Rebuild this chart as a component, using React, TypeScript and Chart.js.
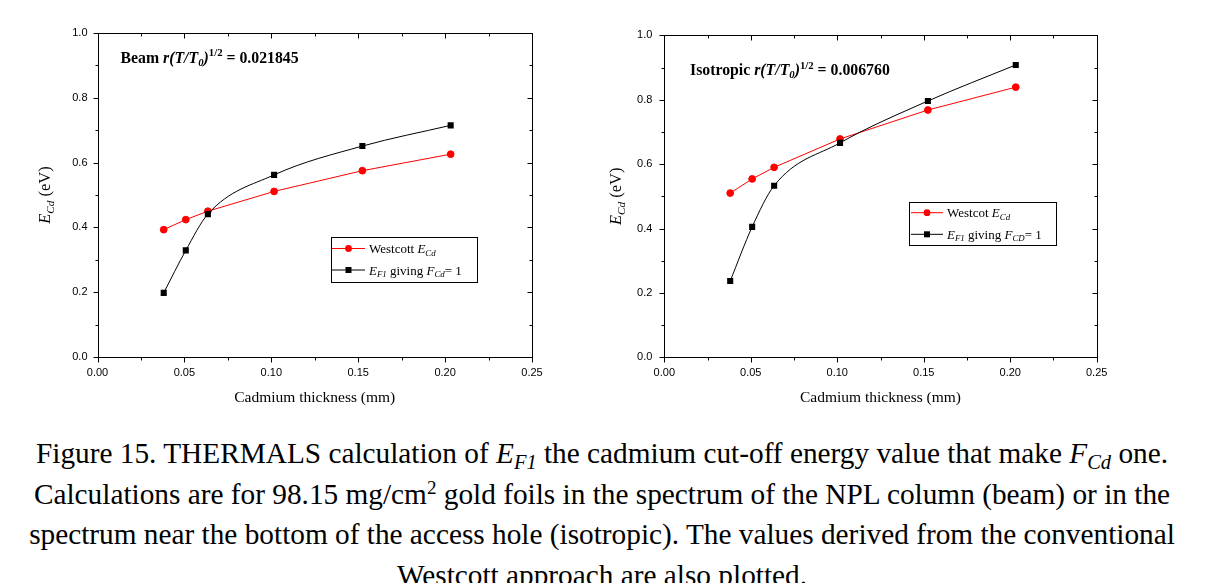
import React, { useEffect, useRef } from 'react';
import { Chart, registerables } from 'chart.js';

Chart.register(...registerables);

// ---------- data ----------
const thickness = [0.0381, 0.0508, 0.0635, 0.1016, 0.1524, 0.2032];
const beamWestcott = [0.393, 0.424, 0.45, 0.511, 0.575, 0.626];
const beamEF1 = [0.198, 0.329, 0.441, 0.562, 0.651, 0.715];
const isoWestcott = [0.51, 0.554, 0.59, 0.678, 0.768, 0.839];
const isoEF1 = [0.237, 0.405, 0.533, 0.666, 0.796, 0.908];
const xTicks = [0, 0.05, 0.1, 0.15, 0.2, 0.25];
const yTicks = [0, 0.2, 0.4, 0.6, 0.8, 1.0];

const SERIF = '"Liberation Serif", "Times New Roman", serif';
const SANS = '"Liberation Sans", Arial, sans-serif';

type Seg = { t: string; i?: boolean; b?: boolean; sub?: boolean; sup?: boolean };

function segFont(s: Seg, size: number) {
  const sz = s.sub || s.sup ? size * 0.68 : size;
  return `${s.i ? 'italic ' : ''}${s.b ? 'bold ' : ''}${sz}px ${SERIF}`;
}

function drawRich(ctx: CanvasRenderingContext2D, segs: Seg[], x: number, y: number, size: number, align: 'left' | 'center' = 'left') {
  ctx.save();
  ctx.textBaseline = 'alphabetic';
  ctx.textAlign = 'left';
  let total = 0;
  const widths = segs.map((s) => {
    ctx.font = segFont(s, size);
    const w = ctx.measureText(s.t).width;
    total += w;
    return w;
  });
  let cx = align === 'center' ? x - total / 2 : x;
  segs.forEach((s, k) => {
    ctx.font = segFont(s, size);
    const dy = s.sub ? size * 0.22 : s.sup ? -size * 0.38 : 0;
    ctx.fillStyle = '#000';
    ctx.fillText(s.t, cx, y + dy);
    cx += widths[k];
  });
  ctx.restore();
}

type PanelCfg = {
  canvasLeft: number;
  width: number;
  height: number;
  top: number;
  bottomPx: number;
  leftPx: number;
  rightPx: number;
  yPad: number;
  west: number[];
  ef1: number[];
  annot: { segs: Seg[]; x: number; y: number };
  yTitle: { x: number };
  xTitleY: number;
  legend: { x: number; y: number; w: number; h: number; lx1: number; lx2: number; tx: number; rows: { ly: number; ty: number; segs: Seg[] }[] };
};

const yTitleSegs: Seg[] = [{ t: 'E', i: true }, { t: 'Cd', i: true, sub: true }, { t: ' (eV)' }];

const beamCfg: PanelCfg = {
  canvasLeft: 0,
  width: 570,
  height: 420,
  top: 33,
  bottomPx: 357,
  leftPx: 97.5,
  rightPx: 532,
  yPad: 10,
  west: beamWestcott,
  ef1: beamEF1,
  annot: {
    segs: [
      { t: 'Beam ', b: true },
      { t: 'r(T/T', b: true, i: true },
      { t: '0', b: true, i: true, sub: true },
      { t: ')', b: true, i: true },
      { t: '1/2', b: true, sup: true },
      { t: ' = 0.021845', b: true },
    ],
    x: 120.5,
    y: 62.5,
  },
  yTitle: { x: 50 },
  xTitleY: 401.5,
  legend: {
    x: 331, y: 237, w: 146, h: 45, lx1: 332, lx2: 365, tx: 369,
    rows: [
      { ly: 248.5, ty: 253, segs: [{ t: 'Westcott ' }, { t: 'E', i: true }, { t: 'Cd', i: true, sub: true }] },
      { ly: 270, ty: 274.5, segs: [{ t: 'E', i: true }, { t: 'F1', i: true, sub: true }, { t: ' giving ' }, { t: 'F', i: true }, { t: 'Cd', i: true, sub: true }, { t: '= 1' }] },
    ],
  },
};

const isoCfg: PanelCfg = {
  canvasLeft: 580,
  width: 540,
  height: 420,
  top: 35.3,
  bottomPx: 357.3,
  leftPx: 664.3,
  rightPx: 1096.7,
  yPad: 12,
  west: isoWestcott,
  ef1: isoEF1,
  annot: {
    segs: [
      { t: 'Isotropic ', b: true },
      { t: 'r(T/T', b: true, i: true },
      { t: '0', b: true, i: true, sub: true },
      { t: ')', b: true, i: true },
      { t: '1/2', b: true, sup: true },
      { t: ' = 0.006760', b: true },
    ],
    x: 690,
    y: 75,
  },
  yTitle: { x: 621 },
  xTitleY: 401.5,
  legend: {
    x: 909, y: 202, w: 147, h: 43, lx1: 911, lx2: 943, tx: 947,
    rows: [
      { ly: 212.7, ty: 217, segs: [{ t: 'Westcot ' }, { t: 'E', i: true }, { t: 'Cd', i: true, sub: true }] },
      { ly: 234.3, ty: 238.5, segs: [{ t: 'E', i: true }, { t: 'F1', i: true, sub: true }, { t: ' giving ' }, { t: 'F', i: true }, { t: 'CD', i: true, sub: true }, { t: '= 1' }] },
    ],
  },
};

function makeDecor(cfg: PanelCfg) {
  const off = cfg.canvasLeft;
  return {
    id: 'decor',
    afterDraw(chart: any) {
      const ctx: CanvasRenderingContext2D = chart.ctx;
      const a = chart.chartArea;
      const xs = chart.scales.x;
      const ys = chart.scales.y;
      ctx.save();
      ctx.strokeStyle = '#000';
      ctx.lineWidth = 1;
      // frame
      ctx.strokeRect(Math.round(a.left) + 0.5, Math.round(a.top) + 0.5, Math.round(a.right) - Math.round(a.left), Math.round(a.bottom) - Math.round(a.top));
      const L = Math.round(a.left) + 0.5, R = Math.round(a.right) + 0.5, T = Math.round(a.top) + 0.5, B = Math.round(a.bottom) + 0.5;
      ctx.beginPath();
      const xMinor = xTicks.slice(1).map((v, k) => (v + xTicks[k]) / 2);
      const yMinor = yTicks.slice(1).map((v, k) => (v + yTicks[k]) / 2);
      const xtick = (v: number, len: number) => {
        const px = Math.round(xs.getPixelForValue(v)) + 0.5;
        ctx.moveTo(px, B); ctx.lineTo(px, B + len);
        ctx.moveTo(px, T); ctx.lineTo(px, T + len);
      };
      const ytick = (v: number, len: number) => {
        const py = Math.round(ys.getPixelForValue(v)) + 0.5;
        ctx.moveTo(L, py); ctx.lineTo(L - len, py);
        ctx.moveTo(R, py); ctx.lineTo(R - len, py);
      };
      xTicks.forEach((v) => xtick(v, 5));
      xMinor.forEach((v) => xtick(v, 3));
      yTicks.forEach((v) => ytick(v, 5));
      yMinor.forEach((v) => ytick(v, 3));
      ctx.stroke();

      // annotation
      drawRich(ctx, cfg.annot.segs, cfg.annot.x - off, cfg.annot.y, 15.8);

      // x title
      drawRich(ctx, [{ t: 'Cadmium thickness (mm)' }], (a.left + a.right) / 2, cfg.xTitleY, 15.5, 'center');

      // y title
      ctx.save();
      ctx.translate(cfg.yTitle.x - off, (a.top + a.bottom) / 2);
      ctx.rotate(-Math.PI / 2);
      drawRich(ctx, yTitleSegs, 0, 0, 16.5, 'center');
      ctx.restore();

      // legend
      const lg = cfg.legend;
      ctx.strokeStyle = '#000';
      ctx.lineWidth = 1;
      ctx.strokeRect(Math.round(lg.x - off) + 0.5, Math.round(lg.y) + 0.5, lg.w, lg.h);
      lg.rows.forEach((r, k) => {
        const col = k === 0 ? '#ff0000' : '#000000';
        ctx.strokeStyle = col;
        ctx.fillStyle = col;
        ctx.beginPath();
        ctx.moveTo(lg.lx1 - off, r.ly);
        ctx.lineTo(lg.lx2 - off, r.ly);
        ctx.stroke();
        const mx = (lg.lx1 + lg.lx2) / 2 - off;
        ctx.beginPath();
        if (k === 0) {
          ctx.arc(mx, r.ly, 3.4, 0, Math.PI * 2);
          ctx.fill();
        } else {
          ctx.fillRect(mx - 3, r.ly - 3, 6, 6);
        }
        drawRich(ctx, r.segs, lg.tx - off, r.ty, 13);
      });
      ctx.restore();
    },
  };
}

function Panel({ cfg }: { cfg: PanelCfg }) {
  const ref = useRef<HTMLCanvasElement | null>(null);
  useEffect(() => {
    if (!ref.current) return;
    const leftIn = cfg.leftPx - cfg.canvasLeft;
    const rightIn = cfg.rightPx - cfg.canvasLeft;
    const xAxisH = 30;
    const chart = new Chart(ref.current, {
      type: 'line',
      data: {
        datasets: [
          {
            label: 'Westcott',
            data: thickness.map((x, i) => ({ x, y: cfg.west[i] })),
            borderColor: '#ff0000',
            backgroundColor: '#ff0000',
            pointBackgroundColor: '#ff0000',
            pointBorderColor: '#ff0000',
            pointStyle: 'circle',
            pointRadius: 3.4,
            pointBorderWidth: 1,
            borderWidth: 1,
            tension: 0,
            order: 1,
          },
          {
            label: 'EF1',
            data: thickness.map((x, i) => ({ x, y: cfg.ef1[i] })),
            borderColor: '#000000',
            backgroundColor: '#000000',
            pointBackgroundColor: '#000000',
            pointBorderColor: '#000000',
            pointStyle: 'rect',
            pointRadius: 4.3,
            pointBorderWidth: 0,
            borderWidth: 1,
            cubicInterpolationMode: 'monotone',
            order: 0,
          },
        ] as any,
      },
      options: {
        responsive: false,
        animation: false,
        devicePixelRatio: 1,
        layout: {
          padding: {
            left: 0,
            top: cfg.top,
            right: cfg.width - rightIn,
            bottom: cfg.height - cfg.bottomPx - xAxisH,
          },
        },
        plugins: { legend: { display: false }, tooltip: { enabled: false } },
        scales: {
          x: {
            type: 'linear',
            min: 0,
            max: 0.25,
            afterFit: (s: any) => { s.height = xAxisH; },
            afterBuildTicks: (s: any) => { s.ticks = xTicks.map((v) => ({ value: v })); },
            ticks: {
              callback: (v: any) => Number(v).toFixed(2),
              font: { family: SANS, size: 11 },
              color: '#000',
              padding: 9,
              autoSkip: false,
              maxRotation: 0,
            },
            grid: { display: false, drawTicks: false },
            border: { display: false },
          },
          y: {
            type: 'linear',
            min: 0,
            max: 1,
            afterFit: (s: any) => { s.width = leftIn; },
            afterBuildTicks: (s: any) => { s.ticks = yTicks.map((v) => ({ value: v })); },
            ticks: {
              callback: (v: any) => Number(v).toFixed(1),
              font: { family: SANS, size: 11 },
              color: '#000',
              padding: cfg.yPad,
              autoSkip: false,
            },
            grid: { display: false, drawTicks: false },
            border: { display: false },
          },
        },
      } as any,
      plugins: [makeDecor(cfg)],
    });
    return () => chart.destroy();
  }, [cfg]);
  return (
    <canvas
      ref={ref}
      width={cfg.width}
      height={cfg.height}
      style={{ position: 'absolute', left: cfg.canvasLeft, top: 0, width: cfg.width, height: cfg.height }}
    />
  );
}

const subStyle: React.CSSProperties = { fontSize: '0.7em', position: 'relative', top: '0.3em', lineHeight: 0 };
const supStyle: React.CSSProperties = { fontSize: '0.65em', position: 'relative', top: '-0.5em', lineHeight: 0 };

export default function App() {
  return (
    <div style={{ position: 'fixed', left: 0, top: 0, width: 1213, height: 583, background: '#fff', overflow: 'hidden' }}>
      <Panel cfg={beamCfg} />
      <Panel cfg={isoCfg} />
      <div
        style={{
          position: 'absolute',
          left: 0,
          top: 433,
          width: 1204,
          textAlign: 'center',
          fontFamily: SERIF,
          fontSize: 29.3,
          lineHeight: '40.5px',
          color: '#000',
          whiteSpace: 'nowrap',
        }}
      >
        Figure 15. THERMALS calculation of <i>E</i><i style={subStyle}>F1</i> the cadmium cut-off energy value that make <i>F</i><i style={subStyle}>Cd</i> one.
        <br />
        Calculations are for 98.15 mg/cm<span style={supStyle}>2</span> gold foils in the spectrum of the NPL column (beam) or in the
        <br />
        spectrum near the bottom of the access hole (isotropic). The values derived from the conventional
        <br />
        Westcott approach are also plotted.
      </div>
    </div>
  );
}
